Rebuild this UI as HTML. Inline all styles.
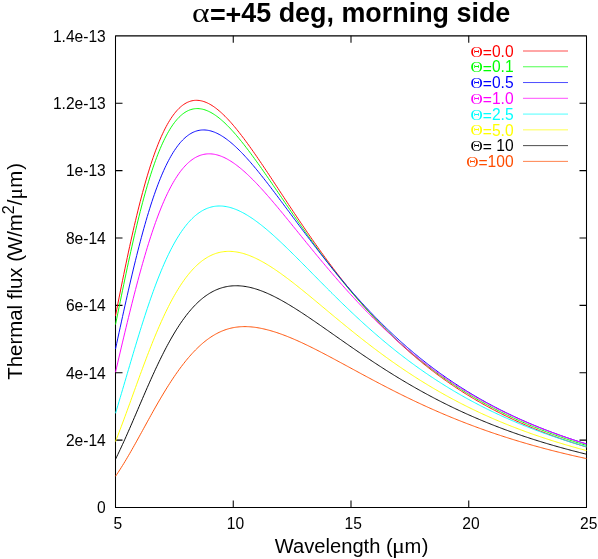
<!DOCTYPE html>
<html><head><meta charset="utf-8"><title>plot</title>
<style>
html,body{margin:0;padding:0;background:#fff;overflow:hidden;}
svg{display:block;will-change:transform;}
text{font-family:"Liberation Sans",sans-serif;}
</style></head><body>
<svg width="598" height="559" viewBox="0 0 598 559">
<rect width="598" height="559" fill="#fff"/>
<g id="frame" stroke="#000" stroke-width="1.05" fill="none" stroke-linejoin="round">
<rect x="115.5" y="35.85" width="471.0" height="471.65"/>
<path d="M233.25 507.5V500.5M233.25 35.85V42.85"/>
<path d="M351.00 507.5V500.5M351.00 35.85V42.85"/>
<path d="M468.75 507.5V500.5M468.75 35.85V42.85"/>
<path d="M115.5 440.12H122.5M586.5 440.12H579.5"/>
<path d="M115.5 372.74H122.5M586.5 372.74H579.5"/>
<path d="M115.5 305.36H122.5M586.5 305.36H579.5"/>
<path d="M115.5 237.99H122.5M586.5 237.99H579.5"/>
<path d="M115.5 170.61H122.5M586.5 170.61H579.5"/>
<path d="M115.5 103.23H122.5M586.5 103.23H579.5"/>
</g>
<g id="curves">
<polyline points="115.50,315.82 116.68,309.82 117.85,303.85 119.03,297.91 120.21,292.00 121.39,286.13 122.56,280.31 123.74,274.54 124.92,268.82 126.10,263.17 127.28,257.58 128.45,252.06 129.63,246.61 130.81,241.24 131.99,235.96 133.16,230.75 134.34,225.64 135.52,220.61 136.69,215.68 137.87,210.85 139.05,206.11 140.23,201.47 141.41,196.94 142.58,192.50 143.76,188.18 144.94,183.95 146.12,179.84 147.29,175.83 148.47,171.94 149.65,168.15 150.82,164.47 152.00,160.90 153.18,157.45 154.36,154.10 155.53,150.86 156.71,147.74 157.89,144.72 159.07,141.81 160.25,139.02 161.42,136.33 162.60,133.74 163.78,131.27 164.95,128.90 166.13,126.63 167.31,124.47 168.49,122.41 169.67,120.46 170.84,118.60 172.02,116.84 173.20,115.18 174.38,113.62 175.55,112.16 176.73,110.78 177.91,109.50 179.09,108.31 180.26,107.21 181.44,106.20 182.62,105.27 183.80,104.43 184.97,103.67 186.15,102.99 187.33,102.39 188.50,101.88 189.68,101.43 190.86,101.07 192.04,100.77 193.22,100.55 194.39,100.40 195.57,100.32 196.75,100.31 197.93,100.36 199.10,100.47 200.28,100.65 201.46,100.89 202.63,101.19 203.81,101.55 204.99,101.96 206.17,102.43 207.34,102.95 208.52,103.52 209.70,104.15 210.88,104.82 212.06,105.54 213.23,106.31 214.41,107.13 215.59,107.98 216.77,108.88 217.94,109.82 219.12,110.80 220.30,111.82 221.48,112.88 222.65,113.97 223.83,115.10 225.01,116.26 226.18,117.45 227.36,118.68 228.54,119.94 229.72,121.22 230.90,122.53 232.07,123.88 233.25,125.24 234.43,126.63 235.61,128.05 236.78,129.49 237.96,130.95 239.14,132.43 240.31,133.94 241.49,135.46 242.67,137.00 243.85,138.56 245.03,140.14 246.20,141.73 247.38,143.34 248.56,144.96 249.73,146.60 250.91,148.25 252.09,149.91 253.27,151.59 254.45,153.27 255.62,154.97 256.80,156.67 257.98,158.39 259.16,160.11 260.33,161.84 261.51,163.58 262.69,165.33 263.87,167.08 265.04,168.84 266.22,170.60 267.40,172.37 268.58,174.14 269.75,175.92 270.93,177.70 272.11,179.48 273.28,181.26 274.46,183.05 275.64,184.84 276.82,186.63 278.00,188.42 279.17,190.21 280.35,192.00 281.53,193.79 282.71,195.58 283.88,197.37 285.06,199.16 286.24,200.94 287.42,202.73 288.59,204.51 289.77,206.29 290.95,208.07 292.12,209.84 293.30,211.61 294.48,213.38 295.66,215.14 296.83,216.90 298.01,218.66 299.19,220.41 300.37,222.15 301.55,223.89 302.72,225.63 303.90,227.36 305.08,229.09 306.25,230.81 307.43,232.52 308.61,234.23 309.79,235.94 310.97,237.63 312.14,239.32 313.32,241.01 314.50,242.68 315.67,244.36 316.85,246.02 318.03,247.68 319.21,249.33 320.38,250.97 321.56,252.61 322.74,254.24 323.92,255.86 325.10,257.47 326.27,259.08 327.45,260.68 328.63,262.27 329.80,263.85 330.98,265.43 332.16,266.99 333.34,268.55 334.51,270.11 335.69,271.65 336.87,273.19 338.05,274.71 339.23,276.23 340.40,277.74 341.58,279.25 342.76,280.74 343.94,282.23 345.11,283.71 346.29,285.18 347.47,286.64 348.64,288.09 349.82,289.54 351.00,290.98 352.18,292.40 353.36,293.82 354.53,295.23 355.71,296.64 356.89,298.03 358.06,299.42 359.24,300.80 360.42,302.17 361.60,303.53 362.77,304.88 363.95,306.22 365.13,307.56 366.31,308.89 367.49,310.21 368.66,311.52 369.84,312.82 371.02,314.11 372.19,315.40 373.37,316.68 374.55,317.95 375.73,319.21 376.91,320.46 378.08,321.71 379.26,322.94 380.44,324.17 381.62,325.39 382.79,326.60 383.97,327.81 385.15,329.01 386.32,330.19 387.50,331.37 388.68,332.55 389.86,333.71 391.04,334.87 392.21,336.02 393.39,337.16 394.57,338.29 395.75,339.42 396.92,340.53 398.10,341.64 399.28,342.75 400.46,343.84 401.63,344.93 402.81,346.01 403.99,347.08 405.17,348.15 406.34,349.20 407.52,350.25 408.70,351.30 409.88,352.33 411.05,353.36 412.23,354.38 413.41,355.39 414.59,356.40 415.76,357.40 416.94,358.39 418.12,359.38 419.29,360.36 420.47,361.33 421.65,362.29 422.83,363.25 424.00,364.20 425.18,365.15 426.36,366.08 427.54,367.02 428.72,367.94 429.89,368.86 431.07,369.77 432.25,370.67 433.43,371.57 434.60,372.46 435.78,373.35 436.96,374.23 438.14,375.10 439.31,375.97 440.49,376.83 441.67,377.68 442.84,378.53 444.02,379.37 445.20,380.21 446.38,381.03 447.56,381.86 448.73,382.68 449.91,383.49 451.09,384.29 452.27,385.09 453.44,385.89 454.62,386.68 455.80,387.46 456.97,388.24 458.15,389.01 459.33,389.77 460.51,390.53 461.69,391.29 462.86,392.04 464.04,392.78 465.22,393.52 466.39,394.25 467.57,394.98 468.75,395.70 469.93,396.42 471.11,397.13 472.28,397.84 473.46,398.54 474.64,399.24 475.81,399.93 476.99,400.62 478.17,401.30 479.35,401.98 480.53,402.65 481.70,403.32 482.88,403.98 484.06,404.63 485.24,405.29 486.41,405.94 487.59,406.58 488.77,407.22 489.94,407.85 491.12,408.48 492.30,409.10 493.48,409.73 494.66,410.34 495.83,410.95 497.01,411.56 498.19,412.16 499.37,412.76 500.54,413.35 501.72,413.94 502.90,414.53 504.07,415.11 505.25,415.69 506.43,416.26 507.61,416.83 508.78,417.39 509.96,417.95 511.14,418.51 512.32,419.06 513.50,419.61 514.67,420.15 515.85,420.69 517.03,421.23 518.21,421.76 519.38,422.29 520.56,422.82 521.74,423.34 522.91,423.86 524.09,424.37 525.27,424.88 526.45,425.39 527.62,425.89 528.80,426.39 529.98,426.88 531.16,427.38 532.34,427.87 533.51,428.35 534.69,428.83 535.87,429.31 537.05,429.79 538.22,430.26 539.40,430.73 540.58,431.19 541.75,431.65 542.93,432.11 544.11,432.57 545.29,433.02 546.47,433.47 547.64,433.91 548.82,434.35 550.00,434.79 551.17,435.23 552.35,435.66 553.53,436.09 554.71,436.52 555.88,436.94 557.06,437.36 558.24,437.78 559.42,438.20 560.60,438.61 561.77,439.02 562.95,439.42 564.13,439.83 565.31,440.23 566.48,440.63 567.66,441.02 568.84,441.41 570.02,441.80 571.19,442.19 572.37,442.57 573.55,442.96 574.72,443.33 575.90,443.71 577.08,444.08 578.26,444.45 579.44,444.82 580.61,445.19 581.79,445.55 582.97,445.91 584.14,446.27 585.32,446.63 586.50,446.98" fill="none" stroke="#ff0000" stroke-width="0.95" stroke-linejoin="round"/>
<polyline points="115.50,324.55 116.68,318.85 117.85,313.13 119.03,307.39 120.21,301.66 121.39,295.93 122.56,290.22 123.74,284.54 124.92,278.89 126.10,273.29 127.28,267.74 128.45,262.25 129.63,256.82 130.81,251.46 131.99,246.17 133.16,240.96 134.34,235.84 135.52,230.80 136.69,225.84 137.87,220.98 139.05,216.22 140.23,211.55 141.41,206.99 142.58,202.52 143.76,198.16 144.94,193.91 146.12,189.76 147.29,185.72 148.47,181.79 149.65,177.96 150.82,174.25 152.00,170.65 153.18,167.16 154.36,163.77 155.53,160.50 156.71,157.34 157.89,154.29 159.07,151.34 160.25,148.51 161.42,145.79 162.60,143.17 163.78,140.66 164.95,138.25 166.13,135.95 167.31,133.76 168.49,131.66 169.67,129.67 170.84,127.78 172.02,125.98 173.20,124.29 174.38,122.69 175.55,121.19 176.73,119.77 177.91,118.46 179.09,117.23 180.26,116.09 181.44,115.04 182.62,114.07 183.80,113.19 184.97,112.39 186.15,111.67 187.33,111.03 188.50,110.47 189.68,109.99 190.86,109.58 192.04,109.24 193.22,108.97 194.39,108.78 195.57,108.65 196.75,108.59 197.93,108.59 199.10,108.66 200.28,108.79 201.46,108.98 202.63,109.23 203.81,109.53 204.99,109.89 206.17,110.31 207.34,110.78 208.52,111.30 209.70,111.87 210.88,112.49 212.06,113.15 213.23,113.86 214.41,114.62 215.59,115.42 216.77,116.26 217.94,117.14 219.12,118.06 220.30,119.02 221.48,120.02 222.65,121.05 223.83,122.12 225.01,123.21 226.18,124.35 227.36,125.51 228.54,126.70 229.72,127.92 230.90,129.17 232.07,130.45 233.25,131.75 234.43,133.07 235.61,134.42 236.78,135.80 237.96,137.19 239.14,138.61 240.31,140.04 241.49,141.50 242.67,142.97 243.85,144.46 245.03,145.97 246.20,147.50 247.38,149.04 248.56,150.59 249.73,152.16 250.91,153.74 252.09,155.33 253.27,156.94 254.45,158.56 255.62,160.18 256.80,161.82 257.98,163.47 259.16,165.12 260.33,166.78 261.51,168.45 262.69,170.13 263.87,171.82 265.04,173.50 266.22,175.20 267.40,176.90 268.58,178.60 269.75,180.31 270.93,182.02 272.11,183.74 273.28,185.46 274.46,187.18 275.64,188.90 276.82,190.62 278.00,192.34 279.17,194.07 280.35,195.79 281.53,197.52 282.71,199.24 283.88,200.97 285.06,202.69 286.24,204.41 287.42,206.13 288.59,207.85 289.77,209.57 290.95,211.28 292.12,213.00 293.30,214.70 294.48,216.41 295.66,218.11 296.83,219.81 298.01,221.51 299.19,223.20 300.37,224.88 301.55,226.57 302.72,228.24 303.90,229.92 305.08,231.58 306.25,233.25 307.43,234.91 308.61,236.56 309.79,238.21 310.97,239.85 312.14,241.48 313.32,243.11 314.50,244.74 315.67,246.35 316.85,247.96 318.03,249.57 319.21,251.17 320.38,252.76 321.56,254.34 322.74,255.92 323.92,257.49 325.10,259.06 326.27,260.61 327.45,262.16 328.63,263.71 329.80,265.24 330.98,266.77 332.16,268.29 333.34,269.81 334.51,271.31 335.69,272.81 336.87,274.30 338.05,275.78 339.23,277.26 340.40,278.73 341.58,280.19 342.76,281.64 343.94,283.09 345.11,284.52 346.29,285.95 347.47,287.37 348.64,288.79 349.82,290.19 351.00,291.59 352.18,292.98 353.36,294.36 354.53,295.73 355.71,297.10 356.89,298.46 358.06,299.81 359.24,301.15 360.42,302.48 361.60,303.81 362.77,305.13 363.95,306.44 365.13,307.74 366.31,309.03 367.49,310.32 368.66,311.60 369.84,312.87 371.02,314.13 372.19,315.39 373.37,316.63 374.55,317.87 375.73,319.10 376.91,320.33 378.08,321.54 379.26,322.75 380.44,323.95 381.62,325.14 382.79,326.33 383.97,327.51 385.15,328.68 386.32,329.84 387.50,330.99 388.68,332.14 389.86,333.28 391.04,334.41 392.21,335.53 393.39,336.65 394.57,337.76 395.75,338.86 396.92,339.96 398.10,341.05 399.28,342.13 400.46,343.20 401.63,344.26 402.81,345.32 403.99,346.37 405.17,347.42 406.34,348.46 407.52,349.49 408.70,350.51 409.88,351.53 411.05,352.53 412.23,353.54 413.41,354.53 414.59,355.52 415.76,356.50 416.94,357.48 418.12,358.45 419.29,359.41 420.47,360.36 421.65,361.31 422.83,362.25 424.00,363.19 425.18,364.12 426.36,365.04 427.54,365.96 428.72,366.87 429.89,367.77 431.07,368.67 432.25,369.56 433.43,370.44 434.60,371.32 435.78,372.19 436.96,373.06 438.14,373.92 439.31,374.77 440.49,375.62 441.67,376.46 442.84,377.30 444.02,378.13 445.20,378.95 446.38,379.77 447.56,380.59 448.73,381.39 449.91,382.19 451.09,382.99 452.27,383.78 453.44,384.56 454.62,385.34 455.80,386.12 456.97,386.89 458.15,387.65 459.33,388.41 460.51,389.16 461.69,389.90 462.86,390.65 464.04,391.38 465.22,392.11 466.39,392.84 467.57,393.56 468.75,394.27 469.93,394.98 471.11,395.69 472.28,396.39 473.46,397.09 474.64,397.78 475.81,398.46 476.99,399.14 478.17,399.82 479.35,400.49 480.53,401.16 481.70,401.82 482.88,402.47 484.06,403.13 485.24,403.77 486.41,404.42 487.59,405.06 488.77,405.69 489.94,406.32 491.12,406.94 492.30,407.56 493.48,408.18 494.66,408.79 495.83,409.40 497.01,410.00 498.19,410.60 499.37,411.20 500.54,411.79 501.72,412.37 502.90,412.96 504.07,413.53 505.25,414.11 506.43,414.68 507.61,415.25 508.78,415.81 509.96,416.37 511.14,416.92 512.32,417.47 513.50,418.02 514.67,418.56 515.85,419.10 517.03,419.63 518.21,420.16 519.38,420.69 520.56,421.21 521.74,421.73 522.91,422.25 524.09,422.76 525.27,423.27 526.45,423.78 527.62,424.28 528.80,424.78 529.98,425.27 531.16,425.77 532.34,426.25 533.51,426.74 534.69,427.22 535.87,427.70 537.05,428.17 538.22,428.65 539.40,429.11 540.58,429.58 541.75,430.04 542.93,430.50 544.11,430.95 545.29,431.41 546.47,431.85 547.64,432.30 548.82,432.74 550.00,433.18 551.17,433.62 552.35,434.05 553.53,434.48 554.71,434.91 555.88,435.34 557.06,435.76 558.24,436.18 559.42,436.59 560.60,437.01 561.77,437.42 562.95,437.82 564.13,438.23 565.31,438.63 566.48,439.03 567.66,439.43 568.84,439.82 570.02,440.21 571.19,440.60 572.37,440.99 573.55,441.37 574.72,441.75 575.90,442.13 577.08,442.50 578.26,442.88 579.44,443.25 580.61,443.61 581.79,443.98 582.97,444.34 584.14,444.70 585.32,445.06 586.50,445.41" fill="none" stroke="#00ff00" stroke-width="0.95" stroke-linejoin="round"/>
<polyline points="115.50,349.00 116.68,343.56 117.85,338.12 119.03,332.69 120.21,327.28 121.39,321.88 122.56,316.50 123.74,311.15 124.92,305.84 126.10,300.57 127.28,295.34 128.45,290.15 129.63,285.02 130.81,279.95 131.99,274.93 133.16,269.98 134.34,265.09 135.52,260.27 136.69,255.53 137.87,250.85 139.05,246.26 140.23,241.75 141.41,237.32 142.58,232.97 143.76,228.71 144.94,224.53 146.12,220.45 147.29,216.45 148.47,212.55 149.65,208.74 150.82,205.02 152.00,201.40 153.18,197.87 154.36,194.44 155.53,191.10 156.71,187.86 157.89,184.71 159.07,181.66 160.25,178.71 161.42,175.85 162.60,173.08 163.78,170.42 164.95,167.84 166.13,165.36 167.31,162.98 168.49,160.68 169.67,158.48 170.84,156.37 172.02,154.35 173.20,152.42 174.38,150.58 175.55,148.83 176.73,147.16 177.91,145.58 179.09,144.08 180.26,142.67 181.44,141.33 182.62,140.08 183.80,138.91 184.97,137.82 186.15,136.80 187.33,135.86 188.50,135.00 189.68,134.21 190.86,133.49 192.04,132.84 193.22,132.26 194.39,131.75 195.57,131.30 196.75,130.92 197.93,130.60 199.10,130.35 200.28,130.16 201.46,130.03 202.63,129.96 203.81,129.94 204.99,129.98 206.17,130.08 207.34,130.23 208.52,130.43 209.70,130.68 210.88,130.98 212.06,131.33 213.23,131.73 214.41,132.17 215.59,132.66 216.77,133.19 217.94,133.77 219.12,134.38 220.30,135.04 221.48,135.73 222.65,136.47 223.83,137.24 225.01,138.04 226.18,138.88 227.36,139.76 228.54,140.66 229.72,141.60 230.90,142.57 232.07,143.57 233.25,144.60 234.43,145.65 235.61,146.73 236.78,147.84 237.96,148.98 239.14,150.13 240.31,151.31 241.49,152.51 242.67,153.74 243.85,154.98 245.03,156.25 246.20,157.53 247.38,158.84 248.56,160.16 249.73,161.49 250.91,162.85 252.09,164.22 253.27,165.60 254.45,167.00 255.62,168.41 256.80,169.84 257.98,171.28 259.16,172.73 260.33,174.19 261.51,175.66 262.69,177.14 263.87,178.63 265.04,180.13 266.22,181.64 267.40,183.15 268.58,184.68 269.75,186.21 270.93,187.74 272.11,189.29 273.28,190.83 274.46,192.39 275.64,193.95 276.82,195.51 278.00,197.07 279.17,198.64 280.35,200.22 281.53,201.79 282.71,203.37 283.88,204.95 285.06,206.53 286.24,208.11 287.42,209.70 288.59,211.28 289.77,212.87 290.95,214.45 292.12,216.04 293.30,217.62 294.48,219.21 295.66,220.79 296.83,222.37 298.01,223.95 299.19,225.53 300.37,227.10 301.55,228.68 302.72,230.25 303.90,231.82 305.08,233.38 306.25,234.95 307.43,236.51 308.61,238.06 309.79,239.62 310.97,241.17 312.14,242.71 313.32,244.25 314.50,245.79 315.67,247.32 316.85,248.85 318.03,250.37 319.21,251.89 320.38,253.41 321.56,254.91 322.74,256.42 323.92,257.92 325.10,259.41 326.27,260.90 327.45,262.38 328.63,263.86 329.80,265.33 330.98,266.79 332.16,268.25 333.34,269.70 334.51,271.15 335.69,272.59 336.87,274.02 338.05,275.45 339.23,276.87 340.40,278.29 341.58,279.70 342.76,281.10 343.94,282.50 345.11,283.88 346.29,285.27 347.47,286.64 348.64,288.01 349.82,289.37 351.00,290.73 352.18,292.08 353.36,293.42 354.53,294.75 355.71,296.08 356.89,297.40 358.06,298.72 359.24,300.02 360.42,301.32 361.60,302.61 362.77,303.90 363.95,305.18 365.13,306.45 366.31,307.71 367.49,308.97 368.66,310.22 369.84,311.47 371.02,312.70 372.19,313.93 373.37,315.15 374.55,316.37 375.73,317.57 376.91,318.77 378.08,319.97 379.26,321.15 380.44,322.33 381.62,323.51 382.79,324.67 383.97,325.83 385.15,326.98 386.32,328.13 387.50,329.26 388.68,330.39 389.86,331.52 391.04,332.63 392.21,333.74 393.39,334.84 394.57,335.94 395.75,337.03 396.92,338.11 398.10,339.19 399.28,340.25 400.46,341.31 401.63,342.37 402.81,343.42 403.99,344.46 405.17,345.49 406.34,346.52 407.52,347.54 408.70,348.56 409.88,349.57 411.05,350.57 412.23,351.56 413.41,352.55 414.59,353.53 415.76,354.51 416.94,355.48 418.12,356.44 419.29,357.40 420.47,358.35 421.65,359.29 422.83,360.23 424.00,361.16 425.18,362.09 426.36,363.00 427.54,363.92 428.72,364.82 429.89,365.73 431.07,366.62 432.25,367.51 433.43,368.39 434.60,369.27 435.78,370.14 436.96,371.00 438.14,371.86 439.31,372.72 440.49,373.56 441.67,374.41 442.84,375.24 444.02,376.07 445.20,376.90 446.38,377.72 447.56,378.53 448.73,379.34 449.91,380.14 451.09,380.94 452.27,381.73 453.44,382.52 454.62,383.30 455.80,384.07 456.97,384.84 458.15,385.61 459.33,386.37 460.51,387.12 461.69,387.87 462.86,388.62 464.04,389.35 465.22,390.09 466.39,390.82 467.57,391.54 468.75,392.26 469.93,392.97 471.11,393.68 472.28,394.39 473.46,395.09 474.64,395.78 475.81,396.47 476.99,397.16 478.17,397.84 479.35,398.51 480.53,399.18 481.70,399.85 482.88,400.51 484.06,401.17 485.24,401.82 486.41,402.47 487.59,403.11 488.77,403.75 489.94,404.38 491.12,405.01 492.30,405.64 493.48,406.26 494.66,406.88 495.83,407.49 497.01,408.10 498.19,408.71 499.37,409.31 500.54,409.90 501.72,410.49 502.90,411.08 504.07,411.67 505.25,412.25 506.43,412.82 507.61,413.39 508.78,413.96 509.96,414.53 511.14,415.09 512.32,415.64 513.50,416.19 514.67,416.74 515.85,417.29 517.03,417.83 518.21,418.37 519.38,418.90 520.56,419.43 521.74,419.96 522.91,420.48 524.09,421.00 525.27,421.51 526.45,422.03 527.62,422.53 528.80,423.04 529.98,423.54 531.16,424.04 532.34,424.53 533.51,425.02 534.69,425.51 535.87,426.00 537.05,426.48 538.22,426.96 539.40,427.43 540.58,427.90 541.75,428.37 542.93,428.83 544.11,429.30 545.29,429.75 546.47,430.21 547.64,430.66 548.82,431.11 550.00,431.56 551.17,432.00 552.35,432.44 553.53,432.88 554.71,433.31 555.88,433.74 557.06,434.17 558.24,434.60 559.42,435.02 560.60,435.44 561.77,435.86 562.95,436.27 564.13,436.68 565.31,437.09 566.48,437.50 567.66,437.90 568.84,438.30 570.02,438.70 571.19,439.09 572.37,439.48 573.55,439.87 574.72,440.26 575.90,440.64 577.08,441.02 578.26,441.40 579.44,441.78 580.61,442.15 581.79,442.53 582.97,442.89 584.14,443.26 585.32,443.63 586.50,443.99" fill="none" stroke="#0000ff" stroke-width="0.95" stroke-linejoin="round"/>
<polyline points="115.50,372.19 116.68,367.15 117.85,362.11 119.03,357.08 120.21,352.07 121.39,347.08 122.56,342.10 123.74,337.15 124.92,332.23 126.10,327.33 127.28,322.47 128.45,317.64 129.63,312.85 130.81,308.10 131.99,303.39 133.16,298.74 134.34,294.13 135.52,289.58 136.69,285.08 137.87,280.64 139.05,276.27 140.23,271.95 141.41,267.71 142.58,263.53 143.76,259.42 144.94,255.38 146.12,251.41 147.29,247.52 148.47,243.71 149.65,239.97 150.82,236.31 152.00,232.74 153.18,229.24 154.36,225.82 155.53,222.49 156.71,219.24 157.89,216.07 159.07,212.98 160.25,209.98 161.42,207.07 162.60,204.23 163.78,201.49 164.95,198.82 166.13,196.24 167.31,193.75 168.49,191.34 169.67,189.01 170.84,186.76 172.02,184.60 173.20,182.52 174.38,180.51 175.55,178.59 176.73,176.75 177.91,174.99 179.09,173.31 180.26,171.70 181.44,170.17 182.62,168.72 183.80,167.34 184.97,166.04 186.15,164.81 187.33,163.65 188.50,162.56 189.68,161.54 190.86,160.59 192.04,159.71 193.22,158.89 194.39,158.14 195.57,157.45 196.75,156.83 197.93,156.27 199.10,155.77 200.28,155.33 201.46,154.95 202.63,154.63 203.81,154.36 204.99,154.15 206.17,153.99 207.34,153.88 208.52,153.83 209.70,153.83 210.88,153.88 212.06,153.98 213.23,154.12 214.41,154.31 215.59,154.55 216.77,154.83 217.94,155.15 219.12,155.51 220.30,155.92 221.48,156.37 222.65,156.85 223.83,157.37 225.01,157.93 226.18,158.53 227.36,159.16 228.54,159.83 229.72,160.52 230.90,161.25 232.07,162.02 233.25,162.81 234.43,163.63 235.61,164.48 236.78,165.36 237.96,166.26 239.14,167.19 240.31,168.15 241.49,169.12 242.67,170.13 243.85,171.15 245.03,172.20 246.20,173.27 247.38,174.36 248.56,175.47 249.73,176.60 250.91,177.75 252.09,178.91 253.27,180.09 254.45,181.29 255.62,182.50 256.80,183.73 257.98,184.98 259.16,186.23 260.33,187.50 261.51,188.79 262.69,190.08 263.87,191.39 265.04,192.71 266.22,194.03 267.40,195.37 268.58,196.72 269.75,198.08 270.93,199.44 272.11,200.82 273.28,202.20 274.46,203.59 275.64,204.98 276.82,206.38 278.00,207.79 279.17,209.20 280.35,210.62 281.53,212.04 282.71,213.47 283.88,214.90 285.06,216.33 286.24,217.77 287.42,219.21 288.59,220.66 289.77,222.10 290.95,223.55 292.12,225.00 293.30,226.45 294.48,227.90 295.66,229.35 296.83,230.80 298.01,232.26 299.19,233.71 300.37,235.16 301.55,236.61 302.72,238.06 303.90,239.51 305.08,240.96 306.25,242.41 307.43,243.86 308.61,245.30 309.79,246.74 310.97,248.18 312.14,249.62 313.32,251.06 314.50,252.49 315.67,253.92 316.85,255.35 318.03,256.77 319.21,258.19 320.38,259.61 321.56,261.02 322.74,262.43 323.92,263.83 325.10,265.24 326.27,266.63 327.45,268.03 328.63,269.41 329.80,270.80 330.98,272.18 332.16,273.55 333.34,274.92 334.51,276.29 335.69,277.65 336.87,279.00 338.05,280.35 339.23,281.70 340.40,283.04 341.58,284.37 342.76,285.70 343.94,287.02 345.11,288.34 346.29,289.65 347.47,290.96 348.64,292.26 349.82,293.55 351.00,294.84 352.18,296.13 353.36,297.40 354.53,298.68 355.71,299.94 356.89,301.20 358.06,302.45 359.24,303.70 360.42,304.94 361.60,306.18 362.77,307.40 363.95,308.63 365.13,309.84 366.31,311.05 367.49,312.26 368.66,313.45 369.84,314.64 371.02,315.83 372.19,317.01 373.37,318.18 374.55,319.35 375.73,320.50 376.91,321.66 378.08,322.80 379.26,323.94 380.44,325.08 381.62,326.21 382.79,327.33 383.97,328.44 385.15,329.55 386.32,330.65 387.50,331.75 388.68,332.84 389.86,333.92 391.04,335.00 392.21,336.07 393.39,337.13 394.57,338.19 395.75,339.24 396.92,340.29 398.10,341.33 399.28,342.36 400.46,343.38 401.63,344.40 402.81,345.42 403.99,346.43 405.17,347.43 406.34,348.42 407.52,349.41 408.70,350.40 409.88,351.37 411.05,352.34 412.23,353.31 413.41,354.27 414.59,355.22 415.76,356.17 416.94,357.11 418.12,358.04 419.29,358.97 420.47,359.90 421.65,360.81 422.83,361.72 424.00,362.63 425.18,363.53 426.36,364.42 427.54,365.31 428.72,366.19 429.89,367.07 431.07,367.94 432.25,368.81 433.43,369.67 434.60,370.52 435.78,371.37 436.96,372.21 438.14,373.05 439.31,373.88 440.49,374.71 441.67,375.53 442.84,376.35 444.02,377.16 445.20,377.96 446.38,378.76 447.56,379.56 448.73,380.35 449.91,381.13 451.09,381.91 452.27,382.69 453.44,383.45 454.62,384.22 455.80,384.98 456.97,385.73 458.15,386.48 459.33,387.22 460.51,387.96 461.69,388.69 462.86,389.42 464.04,390.15 465.22,390.86 466.39,391.58 467.57,392.29 468.75,392.99 469.93,393.69 471.11,394.39 472.28,395.08 473.46,395.76 474.64,396.44 475.81,397.12 476.99,397.79 478.17,398.46 479.35,399.12 480.53,399.78 481.70,400.43 482.88,401.08 484.06,401.73 485.24,402.37 486.41,403.01 487.59,403.64 488.77,404.27 489.94,404.89 491.12,405.51 492.30,406.13 493.48,406.74 494.66,407.34 495.83,407.95 497.01,408.54 498.19,409.14 499.37,409.73 500.54,410.32 501.72,410.90 502.90,411.48 504.07,412.05 505.25,412.62 506.43,413.19 507.61,413.75 508.78,414.31 509.96,414.87 511.14,415.42 512.32,415.97 513.50,416.51 514.67,417.05 515.85,417.59 517.03,418.12 518.21,418.65 519.38,419.18 520.56,419.70 521.74,420.22 522.91,420.74 524.09,421.25 525.27,421.76 526.45,422.26 527.62,422.77 528.80,423.26 529.98,423.76 531.16,424.25 532.34,424.74 533.51,425.22 534.69,425.71 535.87,426.18 537.05,426.66 538.22,427.13 539.40,427.60 540.58,428.07 541.75,428.53 542.93,428.99 544.11,429.45 545.29,429.90 546.47,430.35 547.64,430.80 548.82,431.24 550.00,431.68 551.17,432.12 552.35,432.56 553.53,432.99 554.71,433.42 555.88,433.84 557.06,434.27 558.24,434.69 559.42,435.11 560.60,435.52 561.77,435.93 562.95,436.34 564.13,436.75 565.31,437.16 566.48,437.56 567.66,437.96 568.84,438.35 570.02,438.75 571.19,439.14 572.37,439.53 573.55,439.91 574.72,440.30 575.90,440.68 577.08,441.05 578.26,441.43 579.44,441.80 580.61,442.17 581.79,442.54 582.97,442.91 584.14,443.27 585.32,443.63 586.50,443.99" fill="none" stroke="#ff00ff" stroke-width="0.95" stroke-linejoin="round"/>
<polyline points="115.50,413.29 116.68,409.40 117.85,405.49 119.03,401.55 120.21,397.59 121.39,393.62 122.56,389.63 123.74,385.63 124.92,381.62 126.10,377.61 127.28,373.60 128.45,369.59 129.63,365.59 130.81,361.59 131.99,357.62 133.16,353.66 134.34,349.72 135.52,345.80 136.69,341.90 137.87,338.04 139.05,334.21 140.23,330.41 141.41,326.65 142.58,322.93 143.76,319.24 144.94,315.61 146.12,312.01 147.29,308.47 148.47,304.97 149.65,301.53 150.82,298.14 152.00,294.80 153.18,291.52 154.36,288.29 155.53,285.13 156.71,282.02 157.89,278.97 159.07,275.99 160.25,273.07 161.42,270.21 162.60,267.41 163.78,264.68 164.95,262.01 166.13,259.41 167.31,256.87 168.49,254.40 169.67,252.00 170.84,249.66 172.02,247.39 173.20,245.18 174.38,243.04 175.55,240.96 176.73,238.96 177.91,237.01 179.09,235.13 180.26,233.32 181.44,231.57 182.62,229.89 183.80,228.27 184.97,226.71 186.15,225.22 187.33,223.78 188.50,222.41 189.68,221.10 190.86,219.85 192.04,218.66 193.22,217.53 194.39,216.46 195.57,215.45 196.75,214.49 197.93,213.59 199.10,212.74 200.28,211.95 201.46,211.21 202.63,210.52 203.81,209.89 204.99,209.30 206.17,208.77 207.34,208.29 208.52,207.86 209.70,207.47 210.88,207.13 212.06,206.84 213.23,206.59 214.41,206.38 215.59,206.22 216.77,206.10 217.94,206.03 219.12,205.99 220.30,206.00 221.48,206.04 222.65,206.12 223.83,206.24 225.01,206.40 226.18,206.59 227.36,206.82 228.54,207.08 229.72,207.38 230.90,207.71 232.07,208.07 233.25,208.46 234.43,208.88 235.61,209.33 236.78,209.81 237.96,210.31 239.14,210.85 240.31,211.41 241.49,212.00 242.67,212.61 243.85,213.24 245.03,213.90 246.20,214.59 247.38,215.29 248.56,216.02 249.73,216.77 250.91,217.54 252.09,218.32 253.27,219.13 254.45,219.96 255.62,220.80 256.80,221.66 257.98,222.54 259.16,223.44 260.33,224.35 261.51,225.27 262.69,226.21 263.87,227.17 265.04,228.14 266.22,229.12 267.40,230.11 268.58,231.12 269.75,232.14 270.93,233.16 272.11,234.20 273.28,235.25 274.46,236.31 275.64,237.38 276.82,238.46 278.00,239.55 279.17,240.64 280.35,241.74 281.53,242.85 282.71,243.97 283.88,245.10 285.06,246.23 286.24,247.36 287.42,248.50 288.59,249.65 289.77,250.80 290.95,251.96 292.12,253.12 293.30,254.29 294.48,255.45 295.66,256.63 296.83,257.80 298.01,258.98 299.19,260.16 300.37,261.34 301.55,262.53 302.72,263.72 303.90,264.91 305.08,266.10 306.25,267.29 307.43,268.48 308.61,269.67 309.79,270.87 310.97,272.06 312.14,273.26 313.32,274.45 314.50,275.65 315.67,276.84 316.85,278.03 318.03,279.22 319.21,280.42 320.38,281.61 321.56,282.79 322.74,283.98 323.92,285.17 325.10,286.35 326.27,287.53 327.45,288.71 328.63,289.89 329.80,291.07 330.98,292.24 332.16,293.41 333.34,294.58 334.51,295.75 335.69,296.91 336.87,298.07 338.05,299.23 339.23,300.38 340.40,301.53 341.58,302.68 342.76,303.82 343.94,304.96 345.11,306.10 346.29,307.23 347.47,308.36 348.64,309.48 349.82,310.60 351.00,311.72 352.18,312.84 353.36,313.95 354.53,315.05 355.71,316.15 356.89,317.25 358.06,318.34 359.24,319.43 360.42,320.51 361.60,321.59 362.77,322.67 363.95,323.74 365.13,324.80 366.31,325.86 367.49,326.92 368.66,327.97 369.84,329.02 371.02,330.06 372.19,331.10 373.37,332.13 374.55,333.16 375.73,334.18 376.91,335.20 378.08,336.21 379.26,337.22 380.44,338.23 381.62,339.22 382.79,340.22 383.97,341.21 385.15,342.19 386.32,343.17 387.50,344.14 388.68,345.11 389.86,346.07 391.04,347.03 392.21,347.99 393.39,348.93 394.57,349.88 395.75,350.82 396.92,351.75 398.10,352.68 399.28,353.60 400.46,354.52 401.63,355.43 402.81,356.34 403.99,357.24 405.17,358.14 406.34,359.03 407.52,359.92 408.70,360.80 409.88,361.68 411.05,362.56 412.23,363.42 413.41,364.29 414.59,365.14 415.76,366.00 416.94,366.84 418.12,367.69 419.29,368.53 420.47,369.36 421.65,370.19 422.83,371.01 424.00,371.83 425.18,372.64 426.36,373.45 427.54,374.26 428.72,375.05 429.89,375.85 431.07,376.64 432.25,377.42 433.43,378.20 434.60,378.98 435.78,379.75 436.96,380.51 438.14,381.28 439.31,382.03 440.49,382.78 441.67,383.53 442.84,384.27 444.02,385.01 445.20,385.74 446.38,386.47 447.56,387.20 448.73,387.92 449.91,388.63 451.09,389.34 452.27,390.05 453.44,390.75 454.62,391.45 455.80,392.14 456.97,392.83 458.15,393.52 459.33,394.20 460.51,394.87 461.69,395.54 462.86,396.21 464.04,396.87 465.22,397.53 466.39,398.19 467.57,398.84 468.75,399.48 469.93,400.13 471.11,400.76 472.28,401.40 473.46,402.03 474.64,402.65 475.81,403.27 476.99,403.89 478.17,404.51 479.35,405.12 480.53,405.72 481.70,406.32 482.88,406.92 484.06,407.52 485.24,408.11 486.41,408.69 487.59,409.28 488.77,409.86 489.94,410.43 491.12,411.00 492.30,411.57 493.48,412.13 494.66,412.69 495.83,413.25 497.01,413.80 498.19,414.35 499.37,414.90 500.54,415.44 501.72,415.98 502.90,416.52 504.07,417.05 505.25,417.58 506.43,418.10 507.61,418.62 508.78,419.14 509.96,419.66 511.14,420.17 512.32,420.68 513.50,421.18 514.67,421.68 515.85,422.18 517.03,422.68 518.21,423.17 519.38,423.66 520.56,424.14 521.74,424.62 522.91,425.10 524.09,425.58 525.27,426.05 526.45,426.52 527.62,426.99 528.80,427.45 529.98,427.91 531.16,428.37 532.34,428.83 533.51,429.28 534.69,429.73 535.87,430.17 537.05,430.61 538.22,431.05 539.40,431.49 540.58,431.93 541.75,432.36 542.93,432.79 544.11,433.21 545.29,433.63 546.47,434.05 547.64,434.47 548.82,434.89 550.00,435.30 551.17,435.71 552.35,436.11 553.53,436.52 554.71,436.92 555.88,437.32 557.06,437.72 558.24,438.11 559.42,438.50 560.60,438.89 561.77,439.27 562.95,439.66 564.13,440.04 565.31,440.42 566.48,440.79 567.66,441.17 568.84,441.54 570.02,441.91 571.19,442.27 572.37,442.64 573.55,443.00 574.72,443.36 575.90,443.72 577.08,444.07 578.26,444.42 579.44,444.77 580.61,445.12 581.79,445.47 582.97,445.81 584.14,446.15 585.32,446.49 586.50,446.83" fill="none" stroke="#00ffff" stroke-width="0.95" stroke-linejoin="round"/>
<polyline points="115.50,441.50 116.68,438.50 117.85,435.46 119.03,432.40 120.21,429.31 121.39,426.19 122.56,423.04 123.74,419.88 124.92,416.69 126.10,413.48 127.28,410.26 128.45,407.03 129.63,403.79 130.81,400.54 131.99,397.28 133.16,394.03 134.34,390.77 135.52,387.52 136.69,384.27 137.87,381.03 139.05,377.80 140.23,374.59 141.41,371.39 142.58,368.21 143.76,365.05 144.94,361.91 146.12,358.80 147.29,355.71 148.47,352.65 149.65,349.62 150.82,346.63 152.00,343.66 153.18,340.74 154.36,337.85 155.53,335.00 156.71,332.18 157.89,329.41 159.07,326.69 160.25,324.00 161.42,321.36 162.60,318.77 163.78,316.22 164.95,313.72 166.13,311.26 167.31,308.86 168.49,306.50 169.67,304.20 170.84,301.94 172.02,299.74 173.20,297.58 174.38,295.48 175.55,293.43 176.73,291.43 177.91,289.49 179.09,287.59 180.26,285.75 181.44,283.96 182.62,282.23 183.80,280.54 184.97,278.91 186.15,277.33 187.33,275.80 188.50,274.32 189.68,272.89 190.86,271.51 192.04,270.19 193.22,268.91 194.39,267.68 195.57,266.51 196.75,265.38 197.93,264.30 199.10,263.27 200.28,262.28 201.46,261.34 202.63,260.45 203.81,259.61 204.99,258.81 206.17,258.05 207.34,257.34 208.52,256.67 209.70,256.05 210.88,255.46 212.06,254.92 213.23,254.42 214.41,253.96 215.59,253.54 216.77,253.16 217.94,252.82 219.12,252.51 220.30,252.24 221.48,252.01 222.65,251.82 223.83,251.65 225.01,251.53 226.18,251.44 227.36,251.38 228.54,251.35 229.72,251.35 230.90,251.39 232.07,251.46 233.25,251.55 234.43,251.68 235.61,251.83 236.78,252.02 237.96,252.22 239.14,252.46 240.31,252.72 241.49,253.01 242.67,253.32 243.85,253.66 245.03,254.02 246.20,254.41 247.38,254.81 248.56,255.24 249.73,255.69 250.91,256.16 252.09,256.65 253.27,257.16 254.45,257.69 255.62,258.24 256.80,258.81 257.98,259.39 259.16,260.00 260.33,260.61 261.51,261.25 262.69,261.90 263.87,262.56 265.04,263.24 266.22,263.94 267.40,264.65 268.58,265.37 269.75,266.10 270.93,266.85 272.11,267.61 273.28,268.38 274.46,269.16 275.64,269.96 276.82,270.76 278.00,271.58 279.17,272.40 280.35,273.23 281.53,274.08 282.71,274.93 283.88,275.79 285.06,276.65 286.24,277.53 287.42,278.41 288.59,279.30 289.77,280.20 290.95,281.10 292.12,282.01 293.30,282.92 294.48,283.84 295.66,284.77 296.83,285.70 298.01,286.63 299.19,287.57 300.37,288.51 301.55,289.46 302.72,290.41 303.90,291.37 305.08,292.33 306.25,293.29 307.43,294.25 308.61,295.22 309.79,296.18 310.97,297.16 312.14,298.13 313.32,299.10 314.50,300.08 315.67,301.06 316.85,302.03 318.03,303.01 319.21,303.99 320.38,304.97 321.56,305.96 322.74,306.94 323.92,307.92 325.10,308.90 326.27,309.88 327.45,310.86 328.63,311.85 329.80,312.83 330.98,313.81 332.16,314.79 333.34,315.76 334.51,316.74 335.69,317.72 336.87,318.69 338.05,319.66 339.23,320.64 340.40,321.61 341.58,322.58 342.76,323.54 343.94,324.51 345.11,325.47 346.29,326.43 347.47,327.39 348.64,328.35 349.82,329.30 351.00,330.25 352.18,331.20 353.36,332.15 354.53,333.09 355.71,334.03 356.89,334.97 358.06,335.91 359.24,336.84 360.42,337.77 361.60,338.70 362.77,339.62 363.95,340.54 365.13,341.46 366.31,342.37 367.49,343.28 368.66,344.19 369.84,345.10 371.02,346.00 372.19,346.90 373.37,347.79 374.55,348.68 375.73,349.57 376.91,350.45 378.08,351.33 379.26,352.21 380.44,353.08 381.62,353.95 382.79,354.81 383.97,355.68 385.15,356.53 386.32,357.39 387.50,358.24 388.68,359.08 389.86,359.93 391.04,360.76 392.21,361.60 393.39,362.43 394.57,363.26 395.75,364.08 396.92,364.90 398.10,365.71 399.28,366.52 400.46,367.33 401.63,368.13 402.81,368.93 403.99,369.73 405.17,370.52 406.34,371.31 407.52,372.09 408.70,372.87 409.88,373.64 411.05,374.41 412.23,375.18 413.41,375.94 414.59,376.70 415.76,377.46 416.94,378.21 418.12,378.96 419.29,379.70 420.47,380.44 421.65,381.17 422.83,381.90 424.00,382.63 425.18,383.35 426.36,384.07 427.54,384.79 428.72,385.50 429.89,386.21 431.07,386.91 432.25,387.61 433.43,388.30 434.60,388.99 435.78,389.68 436.96,390.36 438.14,391.04 439.31,391.72 440.49,392.39 441.67,393.06 442.84,393.72 444.02,394.38 445.20,395.04 446.38,395.69 447.56,396.34 448.73,396.99 449.91,397.63 451.09,398.26 452.27,398.90 453.44,399.53 454.62,400.15 455.80,400.78 456.97,401.39 458.15,402.01 459.33,402.62 460.51,403.23 461.69,403.83 462.86,404.43 464.04,405.03 465.22,405.62 466.39,406.21 467.57,406.80 468.75,407.38 469.93,407.96 471.11,408.54 472.28,409.11 473.46,409.68 474.64,410.24 475.81,410.80 476.99,411.36 478.17,411.92 479.35,412.47 480.53,413.01 481.70,413.56 482.88,414.10 484.06,414.64 485.24,415.17 486.41,415.70 487.59,416.23 488.77,416.76 489.94,417.28 491.12,417.80 492.30,418.31 493.48,418.82 494.66,419.33 495.83,419.84 497.01,420.34 498.19,420.84 499.37,421.33 500.54,421.83 501.72,422.32 502.90,422.80 504.07,423.29 505.25,423.77 506.43,424.24 507.61,424.72 508.78,425.19 509.96,425.66 511.14,426.13 512.32,426.59 513.50,427.05 514.67,427.51 515.85,427.96 517.03,428.41 518.21,428.86 519.38,429.30 520.56,429.75 521.74,430.19 522.91,430.62 524.09,431.06 525.27,431.49 526.45,431.92 527.62,432.35 528.80,432.77 529.98,433.19 531.16,433.61 532.34,434.03 533.51,434.44 534.69,434.85 535.87,435.26 537.05,435.66 538.22,436.06 539.40,436.46 540.58,436.86 541.75,437.26 542.93,437.65 544.11,438.04 545.29,438.43 546.47,438.81 547.64,439.20 548.82,439.58 550.00,439.95 551.17,440.33 552.35,440.70 553.53,441.07 554.71,441.44 555.88,441.81 557.06,442.17 558.24,442.53 559.42,442.89 560.60,443.25 561.77,443.60 562.95,443.96 564.13,444.31 565.31,444.66 566.48,445.00 567.66,445.35 568.84,445.69 570.02,446.03 571.19,446.36 572.37,446.70 573.55,447.03 574.72,447.36 575.90,447.69 577.08,448.02 578.26,448.34 579.44,448.66 580.61,448.99 581.79,449.30 582.97,449.62 584.14,449.94 585.32,450.25 586.50,450.56" fill="none" stroke="#ffff00" stroke-width="0.95" stroke-linejoin="round"/>
<polyline points="115.50,459.23 116.68,456.84 117.85,454.41 119.03,451.95 120.21,449.45 121.39,446.93 122.56,444.37 123.74,441.79 124.92,439.18 126.10,436.55 127.28,433.89 128.45,431.21 129.63,428.52 130.81,425.81 131.99,423.09 133.16,420.36 134.34,417.61 135.52,414.86 136.69,412.11 137.87,409.36 139.05,406.60 140.23,403.85 141.41,401.10 142.58,398.36 143.76,395.63 144.94,392.91 146.12,390.20 147.29,387.51 148.47,384.83 149.65,382.17 150.82,379.53 152.00,376.91 153.18,374.32 154.36,371.75 155.53,369.20 156.71,366.69 157.89,364.20 159.07,361.74 160.25,359.32 161.42,356.93 162.60,354.57 163.78,352.24 164.95,349.95 166.13,347.70 167.31,345.48 168.49,343.31 169.67,341.17 170.84,339.07 172.02,337.01 173.20,334.99 174.38,333.01 175.55,331.07 176.73,329.17 177.91,327.32 179.09,325.51 180.26,323.74 181.44,322.01 182.62,320.33 183.80,318.69 184.97,317.09 186.15,315.54 187.33,314.03 188.50,312.56 189.68,311.13 190.86,309.75 192.04,308.41 193.22,307.11 194.39,305.86 195.57,304.64 196.75,303.47 197.93,302.34 199.10,301.26 200.28,300.21 201.46,299.20 202.63,298.24 203.81,297.31 204.99,296.42 206.17,295.58 207.34,294.77 208.52,294.00 209.70,293.26 210.88,292.57 212.06,291.91 213.23,291.29 214.41,290.70 215.59,290.15 216.77,289.64 217.94,289.16 219.12,288.71 220.30,288.30 221.48,287.92 222.65,287.57 223.83,287.26 225.01,286.97 226.18,286.72 227.36,286.50 228.54,286.31 229.72,286.14 230.90,286.01 232.07,285.90 233.25,285.82 234.43,285.77 235.61,285.75 236.78,285.75 237.96,285.78 239.14,285.83 240.31,285.90 241.49,286.01 242.67,286.13 243.85,286.28 245.03,286.45 246.20,286.64 247.38,286.85 248.56,287.09 249.73,287.34 250.91,287.62 252.09,287.92 253.27,288.23 254.45,288.56 255.62,288.92 256.80,289.28 257.98,289.67 259.16,290.07 260.33,290.50 261.51,290.93 262.69,291.38 263.87,291.85 265.04,292.33 266.22,292.83 267.40,293.34 268.58,293.86 269.75,294.40 270.93,294.95 272.11,295.51 273.28,296.08 274.46,296.67 275.64,297.27 276.82,297.88 278.00,298.49 279.17,299.12 280.35,299.76 281.53,300.41 282.71,301.07 283.88,301.74 285.06,302.41 286.24,303.10 287.42,303.79 288.59,304.49 289.77,305.20 290.95,305.91 292.12,306.63 293.30,307.36 294.48,308.09 295.66,308.83 296.83,309.58 298.01,310.33 299.19,311.09 300.37,311.85 301.55,312.62 302.72,313.39 303.90,314.17 305.08,314.95 306.25,315.73 307.43,316.52 308.61,317.32 309.79,318.11 310.97,318.91 312.14,319.71 313.32,320.52 314.50,321.32 315.67,322.13 316.85,322.94 318.03,323.76 319.21,324.57 320.38,325.39 321.56,326.21 322.74,327.03 323.92,327.85 325.10,328.68 326.27,329.50 327.45,330.32 328.63,331.15 329.80,331.98 330.98,332.80 332.16,333.63 333.34,334.46 334.51,335.28 335.69,336.11 336.87,336.94 338.05,337.76 339.23,338.59 340.40,339.41 341.58,340.24 342.76,341.06 343.94,341.89 345.11,342.71 346.29,343.53 347.47,344.35 348.64,345.17 349.82,345.99 351.00,346.80 352.18,347.62 353.36,348.43 354.53,349.25 355.71,350.06 356.89,350.86 358.06,351.67 359.24,352.48 360.42,353.28 361.60,354.08 362.77,354.88 363.95,355.68 365.13,356.47 366.31,357.27 367.49,358.06 368.66,358.84 369.84,359.63 371.02,360.41 372.19,361.19 373.37,361.97 374.55,362.75 375.73,363.52 376.91,364.29 378.08,365.06 379.26,365.83 380.44,366.59 381.62,367.35 382.79,368.11 383.97,368.86 385.15,369.61 386.32,370.36 387.50,371.11 388.68,371.85 389.86,372.59 391.04,373.32 392.21,374.06 393.39,374.79 394.57,375.52 395.75,376.24 396.92,376.96 398.10,377.68 399.28,378.40 400.46,379.11 401.63,379.82 402.81,380.52 403.99,381.22 405.17,381.92 406.34,382.62 407.52,383.31 408.70,384.00 409.88,384.69 411.05,385.37 412.23,386.05 413.41,386.73 414.59,387.40 415.76,388.07 416.94,388.74 418.12,389.40 419.29,390.06 420.47,390.72 421.65,391.37 422.83,392.02 424.00,392.67 425.18,393.31 426.36,393.96 427.54,394.59 428.72,395.23 429.89,395.86 431.07,396.48 432.25,397.11 433.43,397.73 434.60,398.35 435.78,398.96 436.96,399.57 438.14,400.18 439.31,400.78 440.49,401.39 441.67,401.98 442.84,402.58 444.02,403.17 445.20,403.76 446.38,404.34 447.56,404.92 448.73,405.50 449.91,406.08 451.09,406.65 452.27,407.22 453.44,407.79 454.62,408.35 455.80,408.91 456.97,409.46 458.15,410.02 459.33,410.57 460.51,411.11 461.69,411.66 462.86,412.20 464.04,412.74 465.22,413.27 466.39,413.80 467.57,414.33 468.75,414.86 469.93,415.38 471.11,415.90 472.28,416.41 473.46,416.93 474.64,417.44 475.81,417.94 476.99,418.45 478.17,418.95 479.35,419.45 480.53,419.94 481.70,420.44 482.88,420.93 484.06,421.41 485.24,421.90 486.41,422.38 487.59,422.86 488.77,423.33 489.94,423.80 491.12,424.27 492.30,424.74 493.48,425.20 494.66,425.67 495.83,426.12 497.01,426.58 498.19,427.03 499.37,427.48 500.54,427.93 501.72,428.38 502.90,428.82 504.07,429.26 505.25,429.70 506.43,430.13 507.61,430.56 508.78,430.99 509.96,431.42 511.14,431.84 512.32,432.26 513.50,432.68 514.67,433.10 515.85,433.51 517.03,433.92 518.21,434.33 519.38,434.74 520.56,435.14 521.74,435.54 522.91,435.94 524.09,436.34 525.27,436.73 526.45,437.12 527.62,437.51 528.80,437.90 529.98,438.28 531.16,438.67 532.34,439.05 533.51,439.42 534.69,439.80 535.87,440.17 537.05,440.54 538.22,440.91 539.40,441.28 540.58,441.64 541.75,442.00 542.93,442.36 544.11,442.72 545.29,443.07 546.47,443.42 547.64,443.78 548.82,444.12 550.00,444.47 551.17,444.81 552.35,445.16 553.53,445.50 554.71,445.83 555.88,446.17 557.06,446.50 558.24,446.84 559.42,447.16 560.60,447.49 561.77,447.82 562.95,448.14 564.13,448.46 565.31,448.78 566.48,449.10 567.66,449.42 568.84,449.73 570.02,450.04 571.19,450.35 572.37,450.66 573.55,450.97 574.72,451.27 575.90,451.57 577.08,451.87 578.26,452.17 579.44,452.47 580.61,452.76 581.79,453.06 582.97,453.35 584.14,453.64 585.32,453.92 586.50,454.21" fill="none" stroke="#000000" stroke-width="0.95" stroke-linejoin="round"/>
<polyline points="115.50,476.30 116.68,474.57 117.85,472.81 119.03,471.02 120.21,469.19 121.39,467.34 122.56,465.46 123.74,463.55 124.92,461.62 126.10,459.66 127.28,457.67 128.45,455.67 129.63,453.64 130.81,451.59 131.99,449.53 133.16,447.45 134.34,445.36 135.52,443.25 136.69,441.13 137.87,439.01 139.05,436.87 140.23,434.73 141.41,432.59 142.58,430.44 143.76,428.29 144.94,426.14 146.12,424.00 147.29,421.85 148.47,419.72 149.65,417.58 150.82,415.46 152.00,413.34 153.18,411.24 154.36,409.15 155.53,407.07 156.71,405.00 157.89,402.95 159.07,400.91 160.25,398.90 161.42,396.90 162.60,394.92 163.78,392.96 164.95,391.02 166.13,389.10 167.31,387.21 168.49,385.34 169.67,383.49 170.84,381.67 172.02,379.87 173.20,378.10 174.38,376.35 175.55,374.63 176.73,372.94 177.91,371.28 179.09,369.65 180.26,368.04 181.44,366.46 182.62,364.92 183.80,363.40 184.97,361.91 186.15,360.45 187.33,359.02 188.50,357.63 189.68,356.26 190.86,354.92 192.04,353.62 193.22,352.35 194.39,351.11 195.57,349.90 196.75,348.72 197.93,347.57 199.10,346.46 200.28,345.37 201.46,344.32 202.63,343.30 203.81,342.31 204.99,341.36 206.17,340.43 207.34,339.54 208.52,338.68 209.70,337.85 210.88,337.06 212.06,336.29 213.23,335.56 214.41,334.85 215.59,334.18 216.77,333.54 217.94,332.93 219.12,332.35 220.30,331.80 221.48,331.29 222.65,330.80 223.83,330.34 225.01,329.90 226.18,329.50 227.36,329.13 228.54,328.78 229.72,328.46 230.90,328.17 232.07,327.91 233.25,327.67 234.43,327.46 235.61,327.27 236.78,327.10 237.96,326.97 239.14,326.85 240.31,326.76 241.49,326.69 242.67,326.64 243.85,326.61 245.03,326.61 246.20,326.62 247.38,326.66 248.56,326.71 249.73,326.79 250.91,326.88 252.09,326.99 253.27,327.12 254.45,327.26 255.62,327.42 256.80,327.59 257.98,327.79 259.16,327.99 260.33,328.21 261.51,328.45 262.69,328.70 263.87,328.96 265.04,329.23 266.22,329.52 267.40,329.82 268.58,330.13 269.75,330.45 270.93,330.79 272.11,331.13 273.28,331.49 274.46,331.85 275.64,332.23 276.82,332.62 278.00,333.01 279.17,333.42 280.35,333.83 281.53,334.25 282.71,334.69 283.88,335.13 285.06,335.57 286.24,336.03 287.42,336.49 288.59,336.97 289.77,337.44 290.95,337.93 292.12,338.42 293.30,338.92 294.48,339.43 295.66,339.94 296.83,340.46 298.01,340.98 299.19,341.51 300.37,342.05 301.55,342.59 302.72,343.14 303.90,343.69 305.08,344.25 306.25,344.81 307.43,345.37 308.61,345.95 309.79,346.52 310.97,347.10 312.14,347.68 313.32,348.27 314.50,348.86 315.67,349.45 316.85,350.05 318.03,350.65 319.21,351.25 320.38,351.86 321.56,352.47 322.74,353.08 323.92,353.70 325.10,354.31 326.27,354.93 327.45,355.55 328.63,356.18 329.80,356.80 330.98,357.43 332.16,358.06 333.34,358.68 334.51,359.32 335.69,359.95 336.87,360.58 338.05,361.22 339.23,361.85 340.40,362.49 341.58,363.12 342.76,363.76 343.94,364.40 345.11,365.04 346.29,365.67 347.47,366.31 348.64,366.95 349.82,367.59 351.00,368.23 352.18,368.87 353.36,369.51 354.53,370.15 355.71,370.78 356.89,371.42 358.06,372.06 359.24,372.70 360.42,373.33 361.60,373.97 362.77,374.60 363.95,375.24 365.13,375.87 366.31,376.50 367.49,377.13 368.66,377.76 369.84,378.39 371.02,379.02 372.19,379.65 373.37,380.27 374.55,380.90 375.73,381.52 376.91,382.14 378.08,382.76 379.26,383.38 380.44,383.99 381.62,384.61 382.79,385.22 383.97,385.84 385.15,386.45 386.32,387.05 387.50,387.66 388.68,388.27 389.86,388.87 391.04,389.47 392.21,390.07 393.39,390.67 394.57,391.26 395.75,391.86 396.92,392.45 398.10,393.04 399.28,393.63 400.46,394.21 401.63,394.80 402.81,395.38 403.99,395.96 405.17,396.54 406.34,397.11 407.52,397.68 408.70,398.25 409.88,398.82 411.05,399.39 412.23,399.95 413.41,400.52 414.59,401.08 415.76,401.63 416.94,402.19 418.12,402.74 419.29,403.29 420.47,403.84 421.65,404.39 422.83,404.93 424.00,405.47 425.18,406.01 426.36,406.54 427.54,407.08 428.72,407.61 429.89,408.14 431.07,408.67 432.25,409.19 433.43,409.71 434.60,410.23 435.78,410.75 436.96,411.26 438.14,411.78 439.31,412.29 440.49,412.79 441.67,413.30 442.84,413.80 444.02,414.30 445.20,414.80 446.38,415.30 447.56,415.79 448.73,416.28 449.91,416.77 451.09,417.25 452.27,417.74 453.44,418.22 454.62,418.70 455.80,419.17 456.97,419.65 458.15,420.12 459.33,420.59 460.51,421.05 461.69,421.52 462.86,421.98 464.04,422.44 465.22,422.90 466.39,423.35 467.57,423.80 468.75,424.25 469.93,424.70 471.11,425.14 472.28,425.59 473.46,426.03 474.64,426.47 475.81,426.90 476.99,427.33 478.17,427.77 479.35,428.19 480.53,428.62 481.70,429.04 482.88,429.47 484.06,429.89 485.24,430.30 486.41,430.72 487.59,431.13 488.77,431.54 489.94,431.95 491.12,432.36 492.30,432.76 493.48,433.16 494.66,433.56 495.83,433.96 497.01,434.35 498.19,434.74 499.37,435.14 500.54,435.52 501.72,435.91 502.90,436.29 504.07,436.68 505.25,437.06 506.43,437.43 507.61,437.81 508.78,438.18 509.96,438.55 511.14,438.92 512.32,439.29 513.50,439.65 514.67,440.02 515.85,440.38 517.03,440.74 518.21,441.09 519.38,441.45 520.56,441.80 521.74,442.15 522.91,442.50 524.09,442.85 525.27,443.19 526.45,443.53 527.62,443.87 528.80,444.21 529.98,444.55 531.16,444.88 532.34,445.22 533.51,445.55 534.69,445.88 535.87,446.20 537.05,446.53 538.22,446.85 539.40,447.17 540.58,447.49 541.75,447.81 542.93,448.13 544.11,448.44 545.29,448.75 546.47,449.07 547.64,449.37 548.82,449.68 550.00,449.99 551.17,450.29 552.35,450.59 553.53,450.89 554.71,451.19 555.88,451.49 557.06,451.78 558.24,452.07 559.42,452.36 560.60,452.65 561.77,452.94 562.95,453.23 564.13,453.51 565.31,453.79 566.48,454.08 567.66,454.36 568.84,454.63 570.02,454.91 571.19,455.18 572.37,455.46 573.55,455.73 574.72,456.00 575.90,456.27 577.08,456.53 578.26,456.80 579.44,457.06 580.61,457.32 581.79,457.58 582.97,457.84 584.14,458.10 585.32,458.36 586.50,458.61" fill="none" stroke="#ff4d00" stroke-width="0.95" stroke-linejoin="round"/>
</g>
<g id="ticklabels">
<text x="105.8" y="513.30" text-anchor="end" font-size="15.6">0</text>
<text x="105.8" y="445.92" text-anchor="end" font-size="15.6">2e-14</text>
<text x="105.8" y="378.54" text-anchor="end" font-size="15.6">4e-14</text>
<text x="105.8" y="311.16" text-anchor="end" font-size="15.6">6e-14</text>
<text x="105.8" y="243.79" text-anchor="end" font-size="15.6">8e-14</text>
<text x="105.8" y="176.41" text-anchor="end" font-size="15.6">1e-13</text>
<text x="105.8" y="109.03" text-anchor="end" font-size="15.6">1.2e-13</text>
<text x="105.8" y="41.65" text-anchor="end" font-size="15.6">1.4e-13</text>
<text x="117.80" y="528.7" text-anchor="middle" font-size="15.6">5</text>
<text x="235.55" y="528.7" text-anchor="middle" font-size="15.6">10</text>
<text x="353.30" y="528.7" text-anchor="middle" font-size="15.6">15</text>
<text x="471.05" y="528.7" text-anchor="middle" font-size="15.6">20</text>
<text x="588.80" y="528.7" text-anchor="middle" font-size="15.6">25</text>
</g>
<g id="legend">
<text transform="translate(482.8,56.60) scale(1.09,1)" text-anchor="end" font-family="Liberation Serif" font-size="15.6" fill="#ff0000" style="font-family:'Liberation Serif',serif">&#920;</text>
<text x="513.6" y="56.70" text-anchor="end" font-size="15.6" fill="#ff0000"><tspan dy="1.1">=</tspan><tspan dy="-1.1">0.0</tspan></text>
<path d="M523 51.00H568" stroke="#ff0000" stroke-width="0.7" fill="none"/>
<text transform="translate(482.8,72.37) scale(1.09,1)" text-anchor="end" font-family="Liberation Serif" font-size="15.6" fill="#00ff00" style="font-family:'Liberation Serif',serif">&#920;</text>
<text x="513.6" y="72.47" text-anchor="end" font-size="15.6" fill="#00ff00"><tspan dy="1.1">=</tspan><tspan dy="-1.1">0.1</tspan></text>
<path d="M523 66.77H568" stroke="#00ff00" stroke-width="0.7" fill="none"/>
<text transform="translate(482.8,88.14) scale(1.09,1)" text-anchor="end" font-family="Liberation Serif" font-size="15.6" fill="#0000ff" style="font-family:'Liberation Serif',serif">&#920;</text>
<text x="513.6" y="88.24" text-anchor="end" font-size="15.6" fill="#0000ff"><tspan dy="1.1">=</tspan><tspan dy="-1.1">0.5</tspan></text>
<path d="M523 82.54H568" stroke="#0000ff" stroke-width="0.7" fill="none"/>
<text transform="translate(482.8,103.91) scale(1.09,1)" text-anchor="end" font-family="Liberation Serif" font-size="15.6" fill="#ff00ff" style="font-family:'Liberation Serif',serif">&#920;</text>
<text x="513.6" y="104.01" text-anchor="end" font-size="15.6" fill="#ff00ff"><tspan dy="1.1">=</tspan><tspan dy="-1.1">1.0</tspan></text>
<path d="M523 98.31H568" stroke="#ff00ff" stroke-width="0.7" fill="none"/>
<text transform="translate(482.8,119.68) scale(1.09,1)" text-anchor="end" font-family="Liberation Serif" font-size="15.6" fill="#00ffff" style="font-family:'Liberation Serif',serif">&#920;</text>
<text x="513.6" y="119.78" text-anchor="end" font-size="15.6" fill="#00ffff"><tspan dy="1.1">=</tspan><tspan dy="-1.1">2.5</tspan></text>
<path d="M523 114.08H568" stroke="#00ffff" stroke-width="0.7" fill="none"/>
<text transform="translate(482.8,135.45) scale(1.09,1)" text-anchor="end" font-family="Liberation Serif" font-size="15.6" fill="#ffff00" style="font-family:'Liberation Serif',serif">&#920;</text>
<text x="513.6" y="135.55" text-anchor="end" font-size="15.6" fill="#ffff00"><tspan dy="1.1">=</tspan><tspan dy="-1.1">5.0</tspan></text>
<path d="M523 129.85H568" stroke="#ffff00" stroke-width="0.7" fill="none"/>
<text transform="translate(482.8,151.22) scale(1.09,1)" text-anchor="end" font-family="Liberation Serif" font-size="15.6" fill="#000000" style="font-family:'Liberation Serif',serif">&#920;</text>
<text x="513.6" y="151.32" text-anchor="end" font-size="15.6" fill="#000000"><tspan dy="1.1">=</tspan><tspan dy="-1.1">&#160;10</tspan></text>
<path d="M523 145.62H568" stroke="#000000" stroke-width="0.7" fill="none"/>
<text transform="translate(478.5,166.99) scale(1.09,1)" text-anchor="end" font-family="Liberation Serif" font-size="15.6" fill="#ff4d00" style="font-family:'Liberation Serif',serif">&#920;</text>
<text x="513.6" y="167.09" text-anchor="end" font-size="15.6" fill="#ff4d00"><tspan dy="1.1">=</tspan><tspan dy="-1.1">100</tspan></text>
<path d="M523 161.39H568" stroke="#ff4d00" stroke-width="0.7" fill="none"/>
</g>
<text id="alpha" transform="translate(191.9,21.6) scale(1.25,1)" font-size="26.8" style="font-family:'Liberation Serif',serif">&#945;</text>
<text id="title" x="209.9" y="21.5" font-size="26.9" font-weight="bold"><tspan dy="2.9">=+</tspan><tspan dy="-2.9">45 deg, morning side</tspan></text>
<text id="xlabel" x="392.7" y="553" text-anchor="end" font-size="20.15">Wavelength (</text>
<text id="xmu" transform="translate(391.9,553) scale(1.12,1)" font-size="21.5" style="font-family:'Liberation Serif',serif">&#956;</text>
<text id="xm" x="404.5" y="553" font-size="20.15">m<tspan dx="0.5">)</tspan></text>
<text id="ylabel" transform="translate(22.2,379.7) rotate(-90)" font-size="20.4">Thermal flux (<tspan dx="-1">W/m</tspan><tspan font-size="16" dy="-8">2</tspan><tspan dy="8">/</tspan><tspan font-size="21" style="font-family:'Liberation Serif',serif">&#956;</tspan><tspan dx="0.6">m</tspan><tspan dx="0.9">)</tspan></text>
</svg>
</body></html>
